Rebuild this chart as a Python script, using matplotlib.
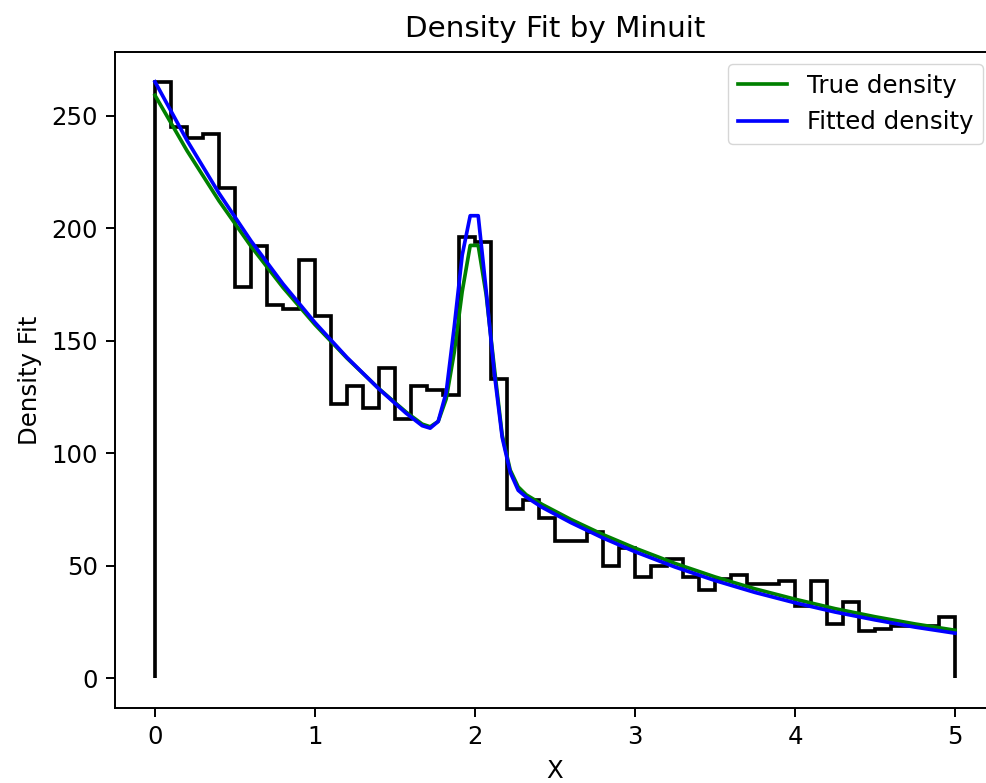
import matplotlib
matplotlib.use('Agg')
import matplotlib.pyplot as plt
import numpy as np

# histogram of the sample: 50 bins of width 0.1 on [0, 5]
bin_edges = np.linspace(0, 5, 51)
counts = [265, 245, 240, 242, 218, 174, 192, 166, 164, 186,
          161, 122, 130, 120, 138, 115, 130, 128, 126, 196,
          194, 133, 75, 79, 71, 61, 61, 65, 50, 58,
          45, 50, 53, 45, 39, 44, 46, 42, 42, 43,
          32, 43, 24, 34, 21, 22, 23, 23, 23, 27]

# density curves, evaluated on a grid that is denser around the peak
x_grid = [0.0, 0.2, 0.4, 0.6, 0.8, 1.0, 1.2, 1.4, 1.57, 1.67,
          1.72, 1.77, 1.82, 1.87, 1.92, 1.97, 2.02, 2.07, 2.12, 2.17,
          2.22, 2.27, 2.32, 2.42, 2.6, 2.8, 3.0, 3.25, 3.5, 3.75,
          4.0, 4.25, 4.5, 4.75, 5.0]
true_density = [259.0, 234.4, 212.1, 191.9, 173.6, 157.1, 142.2, 128.6, 118.2, 112.9,
                111.7, 114.1, 124.1, 144.7, 171.8, 192.3, 192.3, 170.3, 138.4, 108.0,
                92.5, 85.0, 81.5, 77.2, 70.5, 63.8, 57.8, 51.0, 45.0, 39.7,
                35.1, 30.9, 27.3, 24.1, 21.3]
fitted_density = [265.0, 239.0, 215.5, 194.3, 175.2, 158.0, 142.5, 128.5, 117.7, 112.2,
                  111.1, 114.1, 127.0, 156.0, 188.0, 205.5, 205.5, 172.0, 136.0, 107.0,
                  91.5, 83.5, 80.5, 75.9, 69.1, 62.3, 56.2, 49.4, 43.4, 38.1,
                  33.5, 29.4, 25.9, 22.7, 20.0]

s = 1.76
plt.rcParams['font.size'] = 10 * s

fig = plt.figure(figsize=(9.86, 7.83), dpi=100)
# the axes runs slightly past the right edge of the canvas
ax = fig.add_axes([115 / 986, 1 - 708 / 783, 880 / 986, 656 / 783])

ax.stairs(counts, bin_edges, color='black', linewidth=1.5 * s)
ax.plot(x_grid, true_density, color='green', linewidth=1.5 * s, label='True density')
ax.plot(x_grid, fitted_density, color='blue', linewidth=1.5 * s, label='Fitted density')

ax.set_xlim(-0.25, 5.25)
ax.set_ylim(-13.25, 278.25)
ax.set_title('Density Fit by Minuit', fontsize=12 * s, pad=6 * s)
ax.set_xlabel('X', labelpad=4 * s)
ax.set_ylabel('Density Fit', labelpad=4 * s)
ax.legend(loc='upper right')
for sp in ax.spines.values():
    sp.set_linewidth(0.8 * s)
ax.tick_params(width=0.8 * s, length=3.5 * s, pad=3.5 * s)

fig.savefig('out.png')
